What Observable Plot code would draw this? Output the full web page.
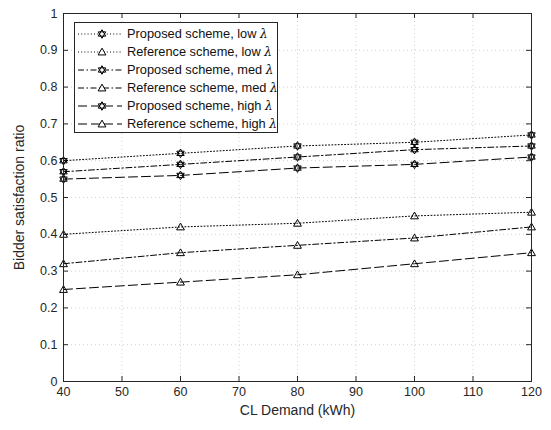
<!DOCTYPE html>
<html><head>
<meta charset="utf-8">
<script src="https://cdn.jsdelivr.net/npm/d3@7"></script>
<script src="https://cdn.jsdelivr.net/npm/@observablehq/plot@0.6"></script>
<style>
body{margin:0;background:#fff}
#wrap{position:relative;width:551px;height:430px}
#legend{position:absolute;left:74px;top:22px}
</style>
</head><body><div id="wrap"></div>
<script>
// ---- data ----
const demand = [40, 60, 80, 100, 120];
const proposedLow  = [0.60, 0.62, 0.64, 0.65, 0.67];
const referenceLow = [0.40, 0.42, 0.43, 0.45, 0.46];
const proposedMed  = [0.57, 0.59, 0.61, 0.63, 0.64];
const referenceMed = [0.32, 0.35, 0.37, 0.39, 0.42];
const proposedHigh = [0.55, 0.56, 0.58, 0.59, 0.61];
const referenceHigh= [0.25, 0.27, 0.29, 0.32, 0.35];
const seriesNames = [
  "Proposed scheme, low λ", "Reference scheme, low λ",
  "Proposed scheme, med λ", "Reference scheme, med λ",
  "Proposed scheme, high λ", "Reference scheme, high λ"
];
const xTicks = [40, 50, 60, 70, 80, 90, 100, 110, 120];
const yTicks = [0, 0.1, 0.2, 0.3, 0.4, 0.5, 0.6, 0.7, 0.8, 0.9, 1];
const xLabel = "CL Demand (kWh)";
const yLabel = "Bidder satisfaction ratio";

// ---- symbols ----
const hexagram = {
  draw(ctx, size) {
    const r = Math.sqrt(size / Math.PI);
    for (const off of [-Math.PI / 2, Math.PI / 2]) {
      for (let i = 0; i < 3; i++) {
        const a = off + i * 2 * Math.PI / 3;
        const x = r * Math.cos(a), y = r * Math.sin(a);
        if (i === 0) ctx.moveTo(x, y); else ctx.lineTo(x, y);
      }
      ctx.closePath();
    }
  }
};
const triangle = {
  draw(ctx, size) {
    const r = Math.sqrt(size / Math.PI) * 1.05;
    for (let i = 0; i < 3; i++) {
      const a = -Math.PI / 2 + i * 2 * Math.PI / 3;
      const x = r * Math.cos(a), y = r * Math.sin(a) + r * 0.15;
      if (i === 0) ctx.moveTo(x, y); else ctx.lineTo(x, y);
    }
    ctx.closePath();
  }
};

const dotted = "1,2.2", dashDot = "6,2.5,1.5,2.5", dashed = "9,4";
const series = [
  {name: seriesNames[0], values: proposedLow,  symbol: hexagram, dash: dotted},
  {name: seriesNames[1], values: referenceLow, symbol: triangle, dash: dotted},
  {name: seriesNames[2], values: proposedMed,  symbol: hexagram, dash: dashDot},
  {name: seriesNames[3], values: referenceMed, symbol: triangle, dash: dashDot},
  {name: seriesNames[4], values: proposedHigh, symbol: hexagram, dash: dashed},
  {name: seriesNames[5], values: referenceHigh,symbol: triangle, dash: dashed}
];
const tableFor = s => demand.map((d, i) => ({x: d, y: s.values[i]}));

const ink = "#262626";
const font = "'Liberation Sans', Arial, Helvetica, sans-serif";

const marks = [
  Plot.gridX(xTicks, {stroke: "#b0b0b0", strokeOpacity: 1, strokeDasharray: "1,3", strokeWidth: 0.6}),
  Plot.gridY(yTicks, {stroke: "#b0b0b0", strokeOpacity: 1, strokeDasharray: "1,3", strokeWidth: 0.6}),
  Plot.axisX(xTicks, {tickSize: 0, tickPadding: 6, label: null, fontSize: 12.5}),
  Plot.axisY(yTicks, {tickSize: 0, tickPadding: 6, tickFormat: d => String(+d.toFixed(1)), label: null, fontSize: 12.5}),
  Plot.text([xLabel], {text: d => d, frameAnchor: "bottom", lineAnchor: "middle", dy: 29, fontSize: 14, fill: ink}),
  Plot.text([yLabel], {text: d => d, frameAnchor: "left", lineAnchor: "middle", dx: -44, rotate: -90, textAnchor: "middle", fontSize: 14, fill: ink}),
  Plot.tickX(xTicks, {x: d => d, insetTop: 363, stroke: ink}),
  Plot.tickX(xTicks, {x: d => d, insetBottom: 363, stroke: ink}),
  Plot.tickY(yTicks, {y: d => d, insetLeft: 463, stroke: ink}),
  Plot.tickY(yTicks, {y: d => d, insetRight: 463, stroke: ink}),
];
for (const s of series) {
  marks.push(Plot.line(tableFor(s), {x: "x", y: "y", stroke: "black", strokeWidth: 1, strokeDasharray: s.dash}));
  marks.push(Plot.dot(tableFor(s), {x: "x", y: "y", symbol: () => s.symbol, r: 4.3, stroke: "black", strokeWidth: 1, fill: "none"}));
}
marks.push(Plot.frame({stroke: ink, strokeWidth: 1}));

const chart = Plot.plot({
  width: 551, height: 430,
  marginLeft: 63, marginRight: 20, marginTop: 13, marginBottom: 49,
  x: {domain: [40, 120]},
  y: {domain: [0, 1]},
  style: {fontFamily: font, fontSize: "12.5px", color: ink, background: "#fff"},
  marks
});
const wrap = document.getElementById("wrap");
wrap.appendChild(chart);

// ---- legend (overlay inside plot area) ----
const lw = 204, lh = 111, rowH = 18;
const lsvg = d3.select(wrap).append("svg").attr("id", "legend")
  .attr("width", lw + 1).attr("height", lh + 1)
  .style("font-family", font).style("font-size", "12.8px");
lsvg.append("rect").attr("x", 0.5).attr("y", 0.5).attr("width", lw - 1).attr("height", lh - 1)
  .attr("fill", "#fff").attr("stroke", ink).attr("stroke-width", 1);
series.forEach((s, i) => {
  const y = 12 + i * rowH;
  const g = lsvg.append("g");
  g.append("line").attr("x1", 4).attr("x2", 48).attr("y1", y).attr("y2", y)
    .attr("stroke", "black").attr("stroke-width", 1).attr("stroke-dasharray", s.dash);
  g.append("path").attr("transform", `translate(28,${y})`)
    .attr("d", d3.symbol().type(s.symbol).size(Math.PI * 4.3 * 4.3)())
    .attr("fill", "#fff").attr("stroke", "black").attr("stroke-width", 1);
  const [base, lam] = [s.name.slice(0, -1), s.name.slice(-1)];
  const t = g.append("text").attr("x", 53).attr("y", y).attr("dy", "0.35em").attr("fill", "#111");
  t.append("tspan").text(base);
  t.append("tspan").attr("font-family", "'DejaVu Serif', serif").attr("font-style", "italic").attr("font-size", "12px").text(lam);
});
</script>
</body></html>
